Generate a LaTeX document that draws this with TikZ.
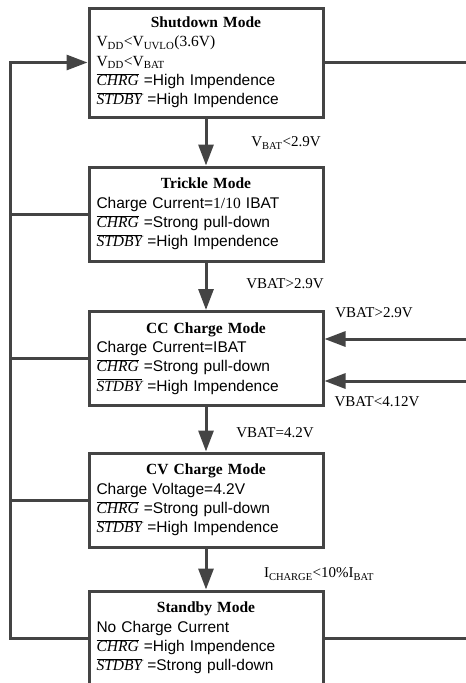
\documentclass[tikz,border=0pt]{standalone}
\usepackage{fontspec}
\setmainfont{Liberation Serif}
\setsansfont{Liberation Sans}
\usetikzlibrary{arrows.meta}
\definecolor{linegray}{HTML}{444444}
\newcommand{\pinbar}[1]{$\overline{\hbox{\rmfamily\itshape #1}}$}
\begin{document}
\begin{tikzpicture}[x=1pt,y=-1pt,line join=miter,>={Triangle[length=21pt,width=15pt]},
  mode/.style={draw=linegray,line width=3pt,fill=white,text width=219pt,inner xsep=7.5pt,inner ysep=4pt,minimum height=94pt,align=left,font=\fontsize{15.5}{19.3}\selectfont\sffamily},
  wire/.style={draw=linegray,line width=3pt},
  cond/.style={font=\fontsize{15}{18}\selectfont\rmfamily}]
\useasboundingbox (0,0) rectangle (466,683);
\clip (0,0) rectangle (466,683);
\node[mode,minimum height=109pt] (shutdown) at (206,62.5) {{\centering\rmfamily\bfseries Shutdown Mode\par}
{\rmfamily V\textsubscript{DD}<V\textsubscript{UVLO}(3.6V)}\\
{\rmfamily V\textsubscript{DD}<V\textsubscript{BAT}}\\
\pinbar{CHRG} =High Impendence\\
\pinbar{STDBY} =High Impendence};
\node[mode] (trickle) at (206,214) {{\centering\rmfamily\bfseries Trickle Mode\par}
Charge Current={\rmfamily 1/10} IBAT\\
\pinbar{CHRG} =Strong pull-down\\
\pinbar{STDBY} =High Impendence};
\node[mode] (cc) at (206,358.5) {{\centering\rmfamily\bfseries CC Charge Mode\par}
Charge Current=IBAT\\
\pinbar{CHRG} =Strong pull-down\\
\pinbar{STDBY} =High Impendence};
\node[mode] (cv) at (206,500) {{\centering\rmfamily\bfseries CV Charge Mode\par}
Charge Voltage=4.2V\\
\pinbar{CHRG} =Strong pull-down\\
\pinbar{STDBY} =High Impendence};
\node[mode] (standby) at (206,638) {{\centering\rmfamily\bfseries Standby Mode\par}
No Charge Current\\
\pinbar{CHRG} =High Impendence\\
\pinbar{STDBY} =Strong pull-down};
\draw[wire,->] (shutdown) -- (trickle);
\draw[wire,->] (trickle) -- (cc);
\draw[wire,->] (cc) -- (cv);
\draw[wire,->] (cv) -- (standby);
\coordinate (back) at (10,638);
\coordinate (edge) at (470,0);
\draw[wire,->] (standby.west) -- (back) |- (shutdown.west);
\foreach \m in {trickle,cc,cv} {\draw[wire] (\m.west) -- (\m.west -| back);}
\draw[wire] (shutdown.east) -- (shutdown.east -| edge);
\draw[wire] (standby.east) -- (standby.east -| edge);
\coordinate (inA) at (470,339);
\coordinate (inB) at (470,381);
\draw[wire,->] (inA) -- (inA -| cc.east);
\draw[wire,->] (inB) -- (inB -| cc.east);
\node[cond] (lowbat) at (286,143) {V\textsubscript{BAT}<2.9V};
\node[cond] (upbat) at (285,284) {VBAT>2.9V};
\node[cond] (retA) at (374,313) {VBAT>2.9V};
\node[cond] (retB) at (377,402) {VBAT<4.12V};
\node[cond] (full) at (275,433) {VBAT=4.2V};
\node[cond] (term) at (319,574) {I\textsubscript{CHARGE}<10\%I\textsubscript{BAT}};
\end{tikzpicture}
\end{document}
